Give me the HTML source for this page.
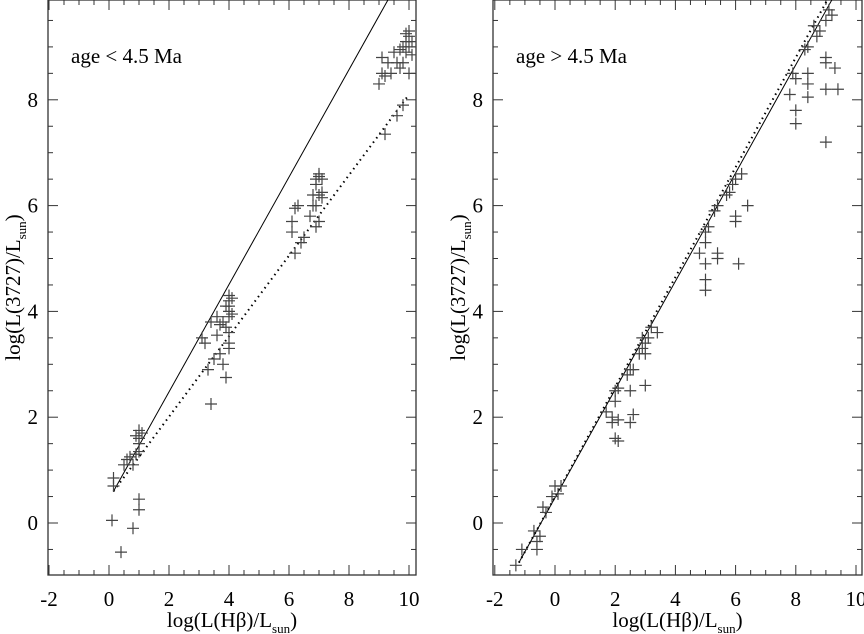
<!DOCTYPE html>
<html><head><meta charset="utf-8"><style>
body{margin:0;background:#fff;}
svg{display:block;}
svg text{font-family:"Liberation Serif","DejaVu Serif",serif;}
</style></head><body>
<svg id="c" width="864" height="634" viewBox="0 0 864 634"></svg>
<script>
const leftX=[0.15,0.15,0.5,0.6,0.8,0.9,1,1,1,1,0.9,1.1,0.7,0.1,0.4,0.8,1,1,
3.1,3.2,3.3,3.4,3.4,3.6,3.7,3.8,3.9,3.5,3.7,3.8,3.9,4,4,4,4,4,4,4,4,4.1,3.9,4.1,3.6,
6.1,6.1,6.2,6.3,6.2,6.4,6.5,6.7,6.8,6.8,6.9,6.9,7,7,7.1,7,7.1,6.9,7,6.9,7.1,
9.2,9.6,9.8,9,9.1,9.2,9.3,9.4,9.1,9.5,9.6,9.7,9.8,9.9,10,10,9.9,10.1,10,9.7,10,10.1,9.8,9.9];
const leftY=[0.85,0.7,1.1,1.2,1.1,1.3,1.35,1.5,1.6,1.75,1.65,1.7,1.25,0.05,-0.55,-0.1,0.25,0.45,
3.5,3.4,2.9,2.25,3.8,3.9,3.75,3.8,3.7,3.1,3.2,3.0,2.75,3.3,3.4,3.6,3.9,4.0,4.1,4.2,4.3,4.25,4.1,3.95,3.55,
5.5,5.7,5.95,6.0,5.1,5.3,5.4,5.8,6.0,6.2,6.4,6.5,6.55,6.6,6.5,6.2,6.25,5.6,5.7,6.0,6.15,
7.35,7.7,7.9,8.3,8.5,8.45,8.7,8.5,8.8,8.9,8.7,8.95,9.0,9.1,9.2,9.3,8.9,8.85,8.5,8.6,9.0,9.1,8.7,9.25];
const rightX=[-1.3,-1.1,-0.7,-0.6,-0.6,-0.4,-0.3,-0.1,0,0.1,0.2,-0.5,
1.7,1.9,2,2,2.1,2,2.1,1.9,2.1,2.4,2.5,2.6,2.5,2.6,2.5,2.8,2.9,3,3.1,3,3.2,3.4,3,2.9,
4.8,5,5,5,5,5,5.1,5.3,5.4,5.4,5.4,5.7,5.8,5.9,6,6,6,6.1,6.2,6.4,
7.8,7.9,8,8,8,8.3,8.4,8.4,8.4,8.4,8.7,8.8,9,9.1,9.2,9,9,9,9,9.3,9.4,8.6];
const rightY=[-0.8,-0.5,-0.15,-0.35,-0.5,0.3,0.2,0.5,0.7,0.55,0.7,-0.25,
2.1,2.0,2.3,2.5,2.55,1.6,1.55,1.9,1.95,2.8,2.9,2.9,2.5,2.05,1.9,3.2,3.3,3.4,3.5,3.2,3.7,3.6,2.6,3.5,
5.1,5.5,5.3,4.9,4.6,4.4,5.6,5.9,6.0,5.1,5.0,6.2,6.25,6.4,6.5,5.8,5.7,4.9,6.6,6.0,
8.1,8.5,7.8,7.55,8.4,8.95,9.0,8.5,8.3,8.05,9.2,9.3,9.5,9.7,9.6,8.8,8.7,8.2,7.2,8.6,8.2,9.4];
const leftSolid=[[0.15,0.6],[9.3,9.89]];
const leftDotted=[[0.15,0.6],[10,8.1]];
const rightSolid=[[-1.2,-0.75],[9.2,9.89]];
const rightDotted=[[-1.2,-0.75],[9.05,9.89]];
const xTicks=[-2,0,2,4,6,8,10];
const yTicks=[0,2,4,6,8];

const svg=document.getElementById('c');
const NS='http://www.w3.org/2000/svg';
const FF='"Liberation Serif", "DejaVu Serif", serif';
function mk(t,a,p){const e=document.createElementNS(NS,t);for(const k in a)e.setAttribute(k,a[k]);(p||svg).appendChild(e);return e;}

function panel(name,L,R,x0px,xUnit,label,xs,ys,solid,dotted){
  const T=0,B=575,y0=523,yUnit=52.9;
  const sx=v=>x0px+v*xUnit, sy=v=>y0-v*yUnit;
  const g=mk('g',{});
  
  
  const fr=mk('rect',{x:L,y:T,width:R-L,height:B-T,fill:'none',stroke:'#333','stroke-width':1.3},g);
  
  
  for(let v=-2;v<=10.01;v+=0.5){
    const x=sx(v); if(x<L||x>R)continue;
    const len=(Math.abs(v-Math.round(v/2)*2)<0.01)?10:5;
    mk('line',{x1:x,y1:B,x2:x,y2:B-len,stroke:'#333'},g);
    mk('line',{x1:x,y1:T,x2:x,y2:T+len,stroke:'#333'},g);
  }
  for(let v=-1;v<=10;v+=0.5){
    const y=sy(v); if(y<T||y>B)continue;
    const len=(Math.abs(v-Math.round(v/2)*2)<0.01)?10:5;
    mk('line',{x1:L,y1:y,x2:L+len,y2:y,stroke:'#333'},g);
    mk('line',{x1:R,y1:y,x2:R-len,y2:y,stroke:'#333'},g);
  }
  xTicks.forEach(v=>{const t=mk('text',{x:sx(v),y:606,'font-size':21,'text-anchor':'middle',fill:'#000','font-family':FF},g);t.textContent=v;
    
    });
  yTicks.forEach(v=>{const t=mk('text',{x:L-10,y:sy(v)+7,'font-size':21,'text-anchor':'end',fill:'#000','font-family':FF},g);t.textContent=v;
    
    });
  const xt=mk('text',{x:(L+R)/2,y:627,'font-size':21,'text-anchor':'middle','font-family':FF},g);
  xt.innerHTML='log(L(Hβ)/L<tspan font-size="13" dy="6">sun</tspan><tspan dy="-6">)</tspan>';
  
  
  const yt=mk('text',{x:0,y:0,'font-size':21,'text-anchor':'middle','font-family':FF,transform:`translate(${L-28},${(T+B)/2}) rotate(-90)`},g);
  yt.innerHTML='log(L(3727)/L<tspan font-size="13" dy="6">sun</tspan><tspan dy="-6">)</tspan>';
  
  
  const an=mk('text',{x:L+23,y:63,'font-size':21,'font-family':FF},g);an.textContent=label;
  
  
  const cp=mk('clipPath',{id:name+'clip'},g);mk('rect',{x:L,y:T,width:R-L,height:B-T},cp);
  const dg=mk('g',{'clip-path':`url(#${name}clip)`},g);
  const ls=mk('line',{x1:sx(solid[0][0]),y1:sy(solid[0][1]),x2:sx(solid[1][0]),y2:sy(solid[1][1]),stroke:'#000','stroke-width':1},dg);
  
  
  const ld=mk('line',{x1:sx(dotted[0][0]),y1:sy(dotted[0][1]),x2:sx(dotted[1][0]),y2:sy(dotted[1][1]),stroke:'#000','stroke-width':2,'stroke-dasharray':'1.5 4'},dg);
  
  
  xs.forEach((v,i)=>{
    const x=sx(v),y=sy(ys[i]);
    const p=mk('path',{d:`M${x-6} ${y}H${x+6}M${x} ${y-6}V${y+6}`,stroke:'#444','stroke-width':1.2,fill:'none'},dg);
    
    
  });
}
panel('left-panel',48,416,109,30,'age  < 4.5 Ma',leftX,leftY,leftSolid,leftDotted);
panel('right-panel',493,862,555,30.1,'age  > 4.5 Ma',rightX,rightY,rightSolid,rightDotted);
</script>
</body></html>
